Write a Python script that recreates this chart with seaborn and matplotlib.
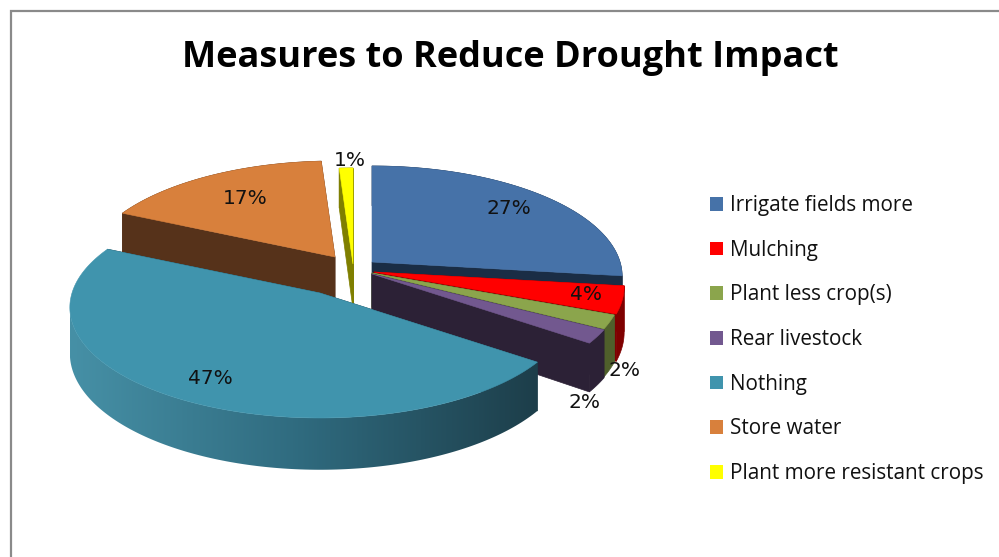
import numpy as np
import matplotlib
matplotlib.use("Agg")
import matplotlib.pyplot as plt
from matplotlib.colors import LinearSegmentedColormap
from matplotlib.patches import Patch, Polygon
import seaborn as sns

# Survey responses, in percent
measures = ["Irrigate fields more", "Mulching", "Plant less crop(s)", "Rear livestock",
            "Nothing", "Store water", "Plant more resistant crops"]
shares = [27, 4, 2, 2, 47, 17, 1]

top_colors = ["#4672a8", "#ff0000", "#8ba54c", "#72588f", "#4094ad", "#d8803c", "#ffff00"]
wall_colors = ["#1a2d45", "#7f0000", "#4f5f2b", "#2c2136", "#1c3d49", "#56321a", "#7f7f00"]

# Pie layout, in canvas pixels
CENTER = np.array([350.0, 270.0])
explode = [(22, -8), (24, 2), (22, 3), (22, 4), (-30, 23), (-15, -13), (3, -6)]
RX, RY, PERSPECTIVE, DEPTH = 248.0, 108.6, 0.131, 45.0
label_xy = [(509, 209), (586, 294), (625, 371), (585, 402), (210, 378), (245, 198), (350, 160)]
draw_order = [5, 6, 0, 1, 2, 3, 4]


def project(theta, apex):
    """Map clockwise-from-top angles on the tilted disc to canvas points."""
    u = np.sin(theta)
    v = -np.cos(theta)
    w = 1 - PERSPECTIVE * v
    return apex[0] + RX * u / w, apex[1] + RY * v / w, DEPTH / w


sns.set_theme(style="white")
plt.rcParams["font.family"] = ["Open Sans", "DejaVu Sans"]
fig = plt.figure(figsize=(9.99, 5.57), dpi=100)
ax = fig.add_axes([0, 0, 1, 1])
ax.set_xlim(0, 999)
ax.set_ylim(557, 0)
ax.axis("off")

# Chart frame, open on the right and along the bottom
ax.plot([11, 11, 999], [557, 11, 11], color="#8a8a8a", lw=1.6, solid_joinstyle="miter")

edges = np.deg2rad(np.cumsum([0] + shares) * 3.6)
for rank, i in enumerate(draw_order):
    z = rank * 3 + 1
    apex = CENTER + np.array(explode[i], dtype=float)
    theta = np.linspace(edges[i], edges[i + 1], max(shares[i] * 4, 6))
    x, y, d = project(theta, apex)

    # Cut faces running from the centre out to the rim
    for k in (0, -1):
        ax.fill([apex[0], x[k], x[k], apex[0]],
                [apex[1], y[k], y[k] + d[k], apex[1] + DEPTH],
                color=wall_colors[i], lw=0.5, zorder=z)

    # Outer wall; the large slice is shaded from left to right
    if measures[i] == "Nothing":
        # Only the rim up to its leftmost point faces the viewer
        front = np.argmin(x) + 1
        fx, fy, fd = x[:front], y[:front], d[:front]
        wall_xy = np.c_[np.r_[fx, fx[::-1]], np.r_[fy, (fy + fd)[::-1]]]
        shade = LinearSegmentedColormap.from_list(
            "wall", sns.blend_palette(["#4690a6", "#2f6a7e", "#1d3e4a"], 32))
        ramp = ax.imshow(np.linspace(1, 0, 256)[None, :], cmap=shade, aspect="auto",
                         extent=(fx.max(), fx.min(), (fy + fd).max(), fy.min()), zorder=z + 1)
        ramp.set_clip_path(Polygon(wall_xy, transform=ax.transData))
        ax.set_xlim(0, 999)
        ax.set_ylim(557, 0)
    else:
        wall_xy = np.c_[np.r_[x, x[::-1]], np.r_[y, (y + d)[::-1]]]
        ax.fill(wall_xy[:, 0], wall_xy[:, 1], color=wall_colors[i], lw=0.5, zorder=z + 1)

    # Top surface
    ax.fill(np.r_[apex[0], x], np.r_[apex[1], y], color=top_colors[i], lw=0.4, zorder=z + 2)

for share, (lx, ly) in zip(shares, label_xy):
    ax.text(lx, ly, f"{share}%", ha="center", va="center", fontsize=14.5,
            family=["DejaVu Sans"], color="#111111", zorder=50)

ax.text(510, 58, "Measures to Reduce Drought Impact", ha="center", va="center",
        fontsize=26, fontweight="bold", color="black", zorder=50)

handles = [Patch(facecolor=c, edgecolor="none") for c in top_colors]
ax.legend(handles, measures, loc="upper left", bbox_to_anchor=(710 / 999, 1 - 195 / 557),
          frameon=False, fontsize=14.9, handlelength=0.65, handleheight=0.65,
          handletextpad=0.31, labelspacing=1.145, borderpad=0, borderaxespad=0,
          labelcolor="#111111")

fig.savefig("out.png", dpi=100, facecolor="white")
